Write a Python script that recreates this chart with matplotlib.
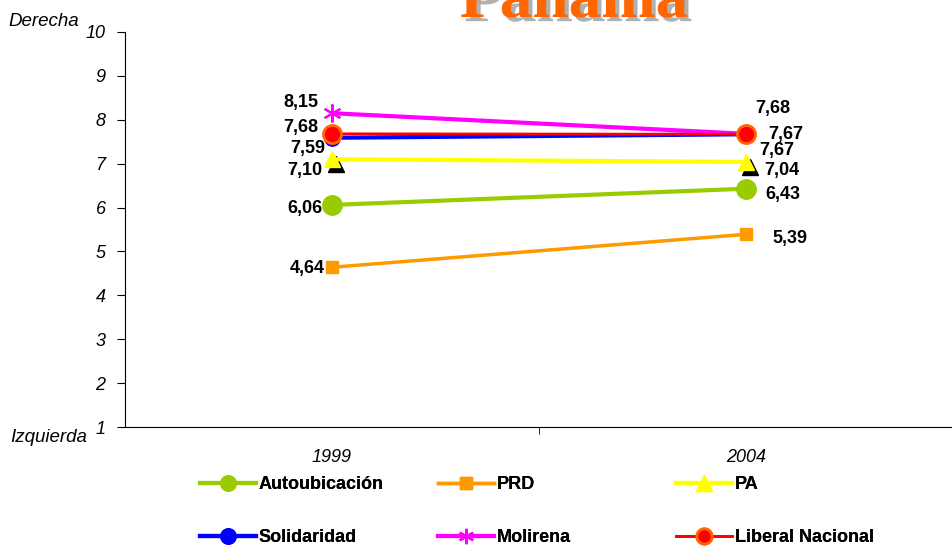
import matplotlib
matplotlib.use("Agg")
import matplotlib.pyplot as plt
import matplotlib.patheffects as pe
from matplotlib.transforms import ScaledTranslation
from matplotlib.lines import Line2D

years = ["1999", "2004"]
autoubicacion = [6.06, 6.43]
prd = [4.64, 5.39]
pa = [7.10, 7.04]
solidaridad = [7.59, 7.67]
molirena = [8.15, 7.68]
liberal = [7.68, 7.67]

plt.rcParams['font.family'] = ['Liberation Sans', 'DejaVu Sans']

fig = plt.figure(figsize=(9.53, 5.48), dpi=100)
ax = fig.add_axes([125/953, 1-427/548, (953-125)/953, (427-32)/548])
x = [0, 1]

l_prd, = ax.plot(x, prd, color='#ff9900', lw=2.5, marker='s', ms=8, mfc='#ff9900', mec='#ff9900', zorder=3)
l_auto, = ax.plot(x, autoubicacion, color='#99cc00', lw=3, marker='o', ms=14, mfc='#99cc00', mec='#99cc00', zorder=3)
# shadow triangles for PA
off = ScaledTranslation(4/100, -5/100, fig.dpi_scale_trans)
ax.plot(x, pa, ls='none', marker='^', ms=11, mfc='black', mec='black',
        transform=ax.transData + off, zorder=3)
l_pa, = ax.plot(x, pa, color='#ffff00', lw=3, marker='^', ms=11, mfc='#ffff00', mec='#ffff00', zorder=4)
l_sol, = ax.plot(x, solidaridad, color='#0000ff', lw=3, marker='o', ms=11, mfc='#0000ff', mec='#0000ff', zorder=5)
l_mol, = ax.plot(x, molirena, color='#ff00ff', lw=3, marker=(6, 2, 0), ms=13, mec='#ff00ff', mew=1.5, zorder=5)
l_lib, = ax.plot(x, liberal, color='#ff0000', lw=2, marker='o', ms=13, mfc='#ff0000', mec='#ff6600', mew=2, zorder=6)

ax.set_xlim(-0.5, 1.5)
ax.set_ylim(1, 10)
ax.set_yticks(range(1, 11))
ax.set_yticklabels([str(i) for i in range(1, 11)], fontsize=13, fontstyle='italic')
ax.set_xticks(x)
ax.set_xticklabels(years, fontsize=13, fontstyle='italic')
ax.tick_params(axis='x', length=0, pad=16)
ax.set_xticks([0.5], minor=True)
ax.tick_params(axis='x', which='minor', length=5, direction='out')
ax.tick_params(axis='y', length=6, direction='out', pad=8)
for s in ['top', 'right']:
    ax.spines[s].set_visible(False)

lab = dict(fontsize=13, fontweight='bold', ha='center', va='center')
d = lambda v: f"{v:.2f}".replace('.', ',')
def px(xp, yp, t):
    fig.text(xp/953, 1-yp/548, t, **lab)
px(301, 103, d(molirena[0]))
px(301, 128, d(liberal[0]))
px(308, 149, d(solidaridad[0]))
px(305, 170, d(pa[0]))
px(305, 208, d(autoubicacion[0]))
px(307, 268, d(prd[0]))
px(773, 108, d(molirena[1]))
px(786, 134, d(liberal[1]))
px(777, 151, d(solidaridad[1]))
px(782, 170, d(pa[1]))
px(783, 194, d(autoubicacion[1]))
px(790, 239, d(prd[1]))

fig.text(8/953, 1-22/548, "Derecha", fontsize=13.5, fontstyle='italic', ha='left', va='center')
fig.text(10/953, 1-438/548, "Izquierda", fontsize=13.5, fontstyle='italic', ha='left', va='center')

fig.text(574/953, 1-17/548, "Panamá", fontsize=47, fontweight='bold', color='#ff6600',
         family=['Liberation Serif', 'DejaVu Serif'], ha='center', va='baseline',
         path_effects=[pe.withSimplePatchShadow(offset=(3, -3), shadow_rgbFace='#b0b0b0', alpha=1)])

def mk(line):
    return Line2D([], [], color=line.get_color(), lw=line.get_linewidth(), marker=line.get_marker(),
                  ms=min(line.get_markersize(), 11), mfc=line.get_markerfacecolor(),
                  mec=line.get_markeredgecolor(), mew=line.get_markeredgewidth())

cols = [([l_auto, l_sol], ["Autoubicación", "Solidaridad"], 200),
        ([l_prd, l_mol], ["PRD", "Molirena"], 438),
        ([l_pa, l_lib], ["PA", "Liberal Nacional"], 676)]
for hs, ls, xl in cols:
    leg = fig.legend([mk(l) for l in hs], ls, loc='center left',
                     bbox_to_anchor=(xl/953, 1-511/548), frameon=False,
                     prop={'weight': 'bold', 'size': 13}, handlelength=3.1,
                     handletextpad=0.15, labelspacing=2.0, borderpad=0, borderaxespad=0)
    fig.add_artist(leg)

fig.savefig("out.png", dpi=100)
